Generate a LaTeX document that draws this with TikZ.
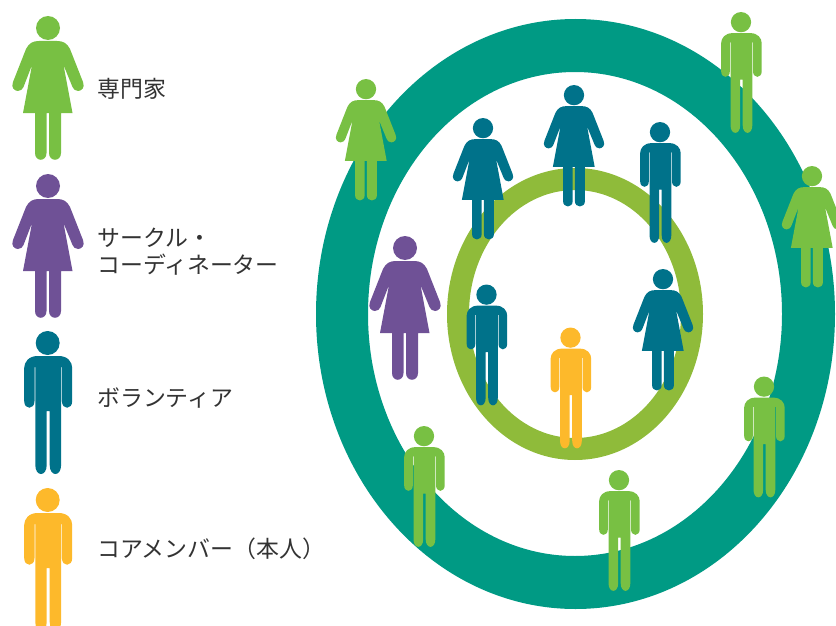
\documentclass[tikz,border=0pt]{standalone}
\usepackage{fontspec}
\setmainfont{Noto Sans CJK JP}
\definecolor{ringteal}{HTML}{009A84}
\definecolor{ringgreen}{HTML}{8FBB3A}
\definecolor{figgreen}{HTML}{78C043}
\definecolor{figpurple}{HTML}{6F5196}
\definecolor{figblue}{HTML}{00728A}
\definecolor{figorange}{HTML}{FDB92B}
\definecolor{labeltext}{HTML}{333333}
\tikzset{
  lab/.style={text=labeltext,font=\fontsize{22.9}{27}\selectfont,anchor=west,align=left,inner sep=0pt},
  pics/woman/.style={code={
    \fill[#1] (0,12) circle (12);
    \fill[#1] (-9,25) .. controls (-15,25) and (-19,27) .. (-22,33)
      -- (-35,66) .. controls (-37.5,72) and (-33,75) .. (-30,75)
      .. controls (-27,75) and (-25.5,73) .. (-24.5,71)
      -- (-16,49) -- (-25,97) -- (-13,97) -- (-13,137)
      .. controls (-13,146) and (-1.5,146) .. (-1.5,137) -- (-1.5,97) -- (1,97) -- (1,137)
      .. controls (1,146) and (13,146) .. (13,137) -- (13,97) -- (24.5,97)
      -- (15.5,49) -- (24.5,71) .. controls (25.5,73) and (27,75) .. (30,75)
      .. controls (33,75) and (37.5,72) .. (35,66) -- (22,33)
      .. controls (19,27) and (15,25) .. (9,25) -- cycle;
  }},
  pics/man/.style={code={
    \fill[#1] (0,12) circle (12);
    \fill[#1] (-10,25) .. controls (-19,25) and (-23.5,31) .. (-23.5,37)
      -- (-23.5,70) .. controls (-23.5,79) and (-13.2,79) .. (-13.2,70)
      -- (-13.2,36) -- (-12.4,36) -- (-12.4,134)
      .. controls (-12.4,146) and (-1,146) .. (-1,134) -- (-1,80) -- (2,80) -- (2,134)
      .. controls (2,146) and (13.4,146) .. (13.4,134) -- (13.4,36) -- (14.2,36) -- (14.2,70)
      .. controls (14.2,79) and (24.5,79) .. (24.5,70)
      -- (24.5,37) .. controls (24.5,31) and (20,25) .. (11,25) -- cycle;
  }}
}
\begin{document}
\begin{tikzpicture}[x=1pt,y=-1pt]
\useasboundingbox (0,0) rectangle (836,626);
\clip (0,0) rectangle (836,626);
% rings
\fill[ringteal,even odd rule] (575.5,314) ellipse [x radius=259.5,y radius=295]
  (575,314) ellipse [x radius=207,y radius=242];
\fill[ringgreen,even odd rule] (575,314) ellipse [x radius=128,y radius=146]
  (575,314) ellipse [x radius=106,y radius=124];
% legend figures
\pic at (48,16) {woman=figgreen};
\pic at (48,174) {woman=figpurple};
\pic at (47.7,331) {man=figblue};
\pic at (47.7,488) {man=figorange};
% labels
\node[lab] (l1) at (97,89) {専門家};
\node[lab] (l2) at (97,252) {サークル・\\コーディネーター};
\node[lab] (l3) at (97,398) {ボランティア};
\node[lab] (l4) at (97,549) {コアメンバー（本人）};
% outer circle
\pic[scale=.845] at (366,79) {woman=figgreen};
\pic[scale=.845] at (812,166) {woman=figgreen};
\pic[scale=.845] at (741,12) {man=figgreen};
\pic[scale=.845] at (764,376.5) {man=figgreen};
\pic[scale=.845] at (619,470) {man=figgreen};
\pic[scale=.845] at (424,426) {man=figgreen};
% inner
\pic[scale=.845] at (483,118) {woman=figblue};
\pic[scale=.845] at (574,85) {woman=figblue};
\pic[scale=.845] at (663,269) {woman=figblue};
\pic[scale=.845] at (660,122) {man=figblue};
\pic[scale=.845] at (486.5,284.5) {man=figblue};
\pic[scale=.845] at (570.5,327.5) {man=figorange};
\pic at (405,236) {woman=figpurple};
\end{tikzpicture}
\end{document}
